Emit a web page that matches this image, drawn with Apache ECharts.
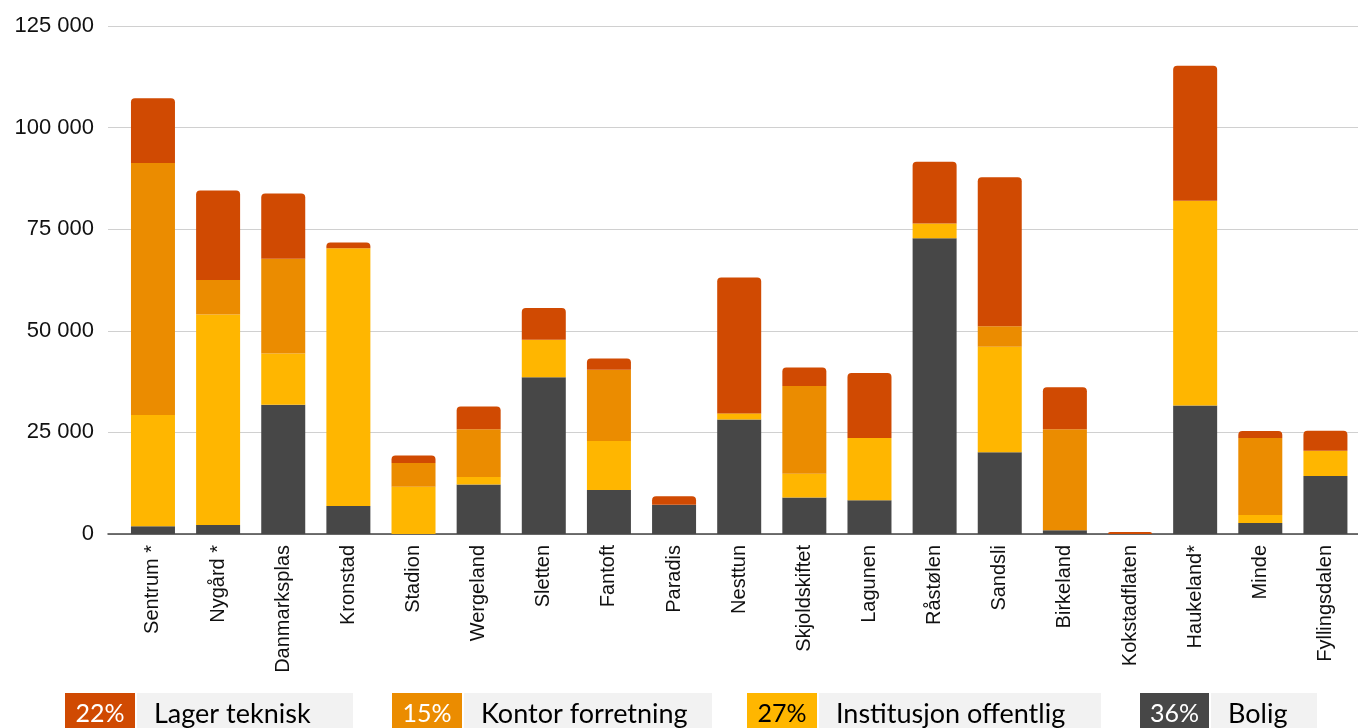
<!DOCTYPE html>
<html>
<head>
<meta charset="utf-8">
<script src="https://cdn.jsdelivr.net/npm/echarts@6/dist/echarts.min.js"></script>
<style>
  html, body { margin: 0; padding: 0; background: #fff; }
  #chart { width: 1358px; height: 728px; }
</style>
</head>
<body>
<div id="chart"></div>
<script>
// Areas of the city
const categories = ['Sentrum *', 'Nygård *', 'Danmarksplas', 'Kronstad', 'Stadion', 'Wergeland',
  'Sletten', 'Fantoft', 'Paradis', 'Nesttun', 'Skjoldskiftet', 'Lagunen', 'Råstølen', 'Sandsli',
  'Birkeland', 'Kokstadflaten', 'Haukeland*', 'Minde', 'Fyllingsdalen'];

// Floor area per building category (stacked bottom to top)
const bolig       = [1900, 2200, 31800, 6900, 0, 12200, 38600, 10800, 7200, 28200, 9000, 8300, 72800, 20100, 900, 0, 31600, 2700, 14300];
const institusjon = [27400, 51800, 12600, 63400, 11600, 1800, 9200, 12100, 0, 1300, 5800, 15300, 3600, 26000, 0, 0, 50400, 2000, 6200];
const kontor      = [62000, 8500, 23300, 0, 5900, 11800, 0, 17500, 0, 200, 21600, 0, 0, 5000, 24900, 0, 0, 18950, 0];
const lager       = [15900, 22000, 16100, 1400, 1800, 5600, 7800, 2800, 2100, 33400, 4600, 16000, 15200, 36700, 10300, 500, 33200, 1700, 4900];

// Legend entries (left to right)
const legendNames = ['Lager teknisk', 'Kontor forretning', 'Institusjon offentlig', 'Bolig'];
const legendShares = ['22%', '15%', '27%', '36%'];

// Y axis ticks
const yMin = 0, yMax = 125000, yStep = 25000;

const colors = {
  lager: '#D04A02',
  kontor: '#EB8C00',
  institusjon: '#FFB600',
  bolig: '#474747'
};

const chart = echarts.init(document.getElementById('chart'), null, { renderer: 'canvas' });

const fmt = v => String(v).replace(/\B(?=(\d{3})+(?!\d))/g, ' ');

// Legend boxes drawn along the bottom edge
const legendLayout = [
  { x: 65, w1: 70, w2: 216, color: colors.lager, txt: '#fff' },
  { x: 392, w1: 70, w2: 248, color: colors.kontor, txt: '#fff' },
  { x: 747, w1: 70, w2: 282, color: colors.institusjon, txt: '#000' },
  { x: 1140, w1: 69, w2: 106, color: colors.bolig, txt: '#fff' }
];
const legendFont = 'Lato, "Open Sans", sans-serif';
const graphic = [];
legendLayout.forEach((l, i) => {
  graphic.push({
    type: 'rect', left: l.x, top: 693, z: 10,
    shape: { width: l.w1, height: 40 }, style: { fill: l.color }
  });
  graphic.push({
    type: 'rect', left: l.x + l.w1 + 2, top: 693, z: 10,
    shape: { width: l.w2, height: 40 }, style: { fill: '#F2F2F2' }
  });
  graphic.push({
    type: 'text', x: l.x + l.w1 / 2, y: 714, z: 11,
    style: { text: legendShares[i], fill: l.txt, font: '25px ' + legendFont, textAlign: 'center', textVerticalAlign: 'middle' }
  });
  graphic.push({
    type: 'text', x: l.x + l.w1 + 19, y: 714, z: 11,
    style: { text: legendNames[i], fill: '#000', font: '27px ' + legendFont, textAlign: 'left', textVerticalAlign: 'middle' }
  });
});

const barBase = { type: 'bar', stack: 'total', xAxisIndex: 1, yAxisIndex: 1, barWidth: 44 };

chart.setOption({
  animation: false,
  backgroundColor: '#fff',
  grid: [
    { left: 108, right: 0, top: 26, height: 508 },
    { left: 120.4, right: 0, top: 26, height: 508 }
  ],
  xAxis: [
    {
      type: 'value', gridIndex: 0, min: 0, max: 1,
      axisLine: { show: true, lineStyle: { color: '#444', width: 1.5 } },
      axisTick: { show: false }, axisLabel: { show: false }, splitLine: { show: false }
    },
    {
      type: 'category', gridIndex: 1, data: categories,
      axisLine: { show: false }, axisTick: { show: false },
      axisLabel: {
        rotate: 90, margin: 11, interval: 0, color: '#111',
        fontFamily: '"Liberation Sans", Arial, sans-serif', fontSize: 20
      }
    }
  ],
  yAxis: [
    {
      type: 'value', gridIndex: 0, min: yMin, max: yMax, interval: yStep,
      axisLine: { show: false }, axisTick: { show: false },
      axisLabel: {
        formatter: fmt, margin: 14, color: '#111',
        fontFamily: '"Liberation Sans", Arial, sans-serif', fontSize: 22
      },
      splitLine: { lineStyle: { color: '#D0D0D0', width: 1.2 } }
    },
    {
      type: 'value', gridIndex: 1, min: yMin, max: yMax, interval: yStep,
      show: false, splitLine: { show: false }
    }
  ],
  series: [
    Object.assign({}, barBase, { name: 'Bolig', data: bolig, itemStyle: { color: colors.bolig } }),
    Object.assign({}, barBase, { name: 'Institusjon offentlig', data: institusjon, itemStyle: { color: colors.institusjon } }),
    Object.assign({}, barBase, { name: 'Kontor forretning', data: kontor, itemStyle: { color: colors.kontor } }),
    Object.assign({}, barBase, { name: 'Lager teknisk', data: lager, itemStyle: { color: colors.lager, borderRadius: [4, 4, 0, 0] } })
  ],
  graphic: graphic
});
</script>
</body>
</html>
